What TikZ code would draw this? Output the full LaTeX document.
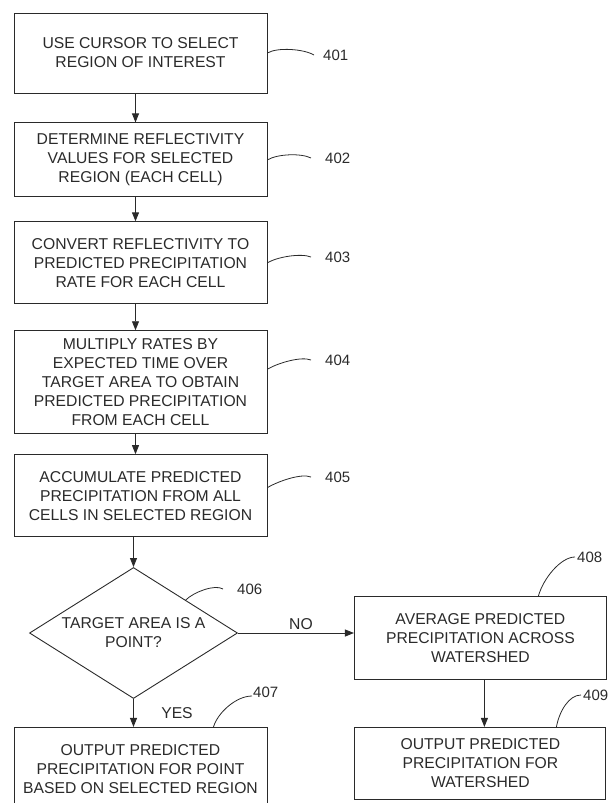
\documentclass[tikz,border=0pt]{standalone}
\usepackage{fontspec}
\setmainfont{Liberation Sans}
\usepackage{xcolor}
\usepackage{tikz}
\usetikzlibrary{arrows.meta,positioning,shapes.geometric}
\definecolor{ink}{HTML}{2A2A2A}
\tikzset{
  patent diagram/.style={
    font=\fontsize{15.7}{19}\selectfont,
    >={Triangle[length=9pt,width=7pt]},
    text=ink
  },
  stepbox/.style={
    draw=ink,
    rectangle,
    line width=0.9pt,
    align=center,
    minimum width=253pt,
    inner sep=2pt
  },
  decisionbox/.style={
    draw=ink,
    diamond,
    aspect=1.59,
    line width=0.9pt,
    align=center,
    minimum width=208pt,
    minimum height=131pt,
    inner sep=0pt
  },
  flowarrow/.style={
    ->,
    draw=ink,
    line width=0.9pt
  },
  refline/.style={
    draw=ink,
    line width=0.8pt
  },
  reflabel/.style={
    font=\fontsize{15}{18}\selectfont,
    anchor=west,
    inner sep=0pt
  }
}

\begin{document}
\begin{tikzpicture}[patent diagram]
\useasboundingbox (0,0) rectangle (610pt,-803pt);
\node[stepbox, minimum height=80pt] (b401) at (140.5pt,-53pt) {USE CURSOR TO SELECT\\REGION OF INTEREST};
\node[stepbox, below=29pt of b401, minimum height=74pt] (b402) {DETERMINE REFLECTIVITY\\VALUES FOR SELECTED\\REGION (EACH CELL)};
\node[stepbox, below=24pt of b402, minimum height=82pt] (b403) {CONVERT REFLECTIVITY TO\\PREDICTED PRECIPITATION\\RATE FOR EACH CELL};
\node[stepbox, below=26pt of b403, minimum height=103pt] (b404) {MULTIPLY RATES BY\\EXPECTED TIME OVER\\TARGET AREA TO OBTAIN\\PREDICTED PRECIPITATION\\FROM EACH CELL};
\node[stepbox, below=20pt of b404, minimum height=82pt] (b405) {ACCUMULATE PREDICTED\\PRECIPITATION FROM ALL\\CELLS IN SELECTED REGION};
\node[decisionbox, below=30pt of b405, xshift=-7pt] (d406) {TARGET AREA IS A\\POINT?};
\node[stepbox, below=28pt of d406, xshift=7pt, minimum height=84pt] (b407) {OUTPUT PREDICTED\\PRECIPITATION FOR POINT\\BASED ON SELECTED REGION};
\node[stepbox, right=116pt of d406, yshift=-5pt, minimum width=252pt, minimum height=83pt] (b408) {AVERAGE PREDICTED\\PRECIPITATION ACROSS\\WATERSHED};
\node[stepbox, below=47pt of b408, minimum width=251pt, minimum height=72pt] (b409) {OUTPUT PREDICTED\\PRECIPITATION FOR\\WATERSHED};

% reference numerals
\node[reflabel] (l401) at (323pt,-55pt) {401};
\node[reflabel] (l402) at (325pt,-158pt) {402};
\node[reflabel] (l403) at (325pt,-257pt) {403};
\node[reflabel] (l404) at (325pt,-360pt) {404};
\node[reflabel] (l405) at (325pt,-477pt) {405};
\node[reflabel] (l406) at (237pt,-589pt) {406};
\node[reflabel] (l407) at (253pt,-692pt) {407};
\node[reflabel] (l408) at (577pt,-557pt) {408};
\node[reflabel] (l409) at (583pt,-695pt) {409};

\draw[refline] (b401.east) .. controls +(10pt,6pt) and +(-10pt,6pt) .. ([xshift=-9pt]l401.west);
\draw[refline] (b402.east) .. controls +(10pt,6pt) and +(-10pt,5pt) .. ([xshift=-14pt]l402.west);
\draw[refline] (b403.east) .. controls +(10pt,6pt) and +(-10pt,4pt) .. ([xshift=-14pt]l403.west);
\draw[refline] ([yshift=13pt]b404.east) .. controls +(10pt,6pt) and +(-10pt,4pt) .. ([xshift=-14pt]l404.west);
\draw[refline] ([yshift=8pt]b405.east) .. controls +(10pt,6pt) and +(-10pt,4pt) .. ([xshift=-14pt]l405.west);
\draw[refline] (d406.north east) .. controls +(8pt,8pt) and +(-8pt,5pt) .. ([xshift=-14pt]l406.west);
\draw[refline] ([xshift=73pt]b407.north) .. controls +(4pt,14pt) and +(-16pt,0pt) .. ([xshift=-1pt,yshift=-4pt]l407.west);
\draw[refline] ([xshift=58pt]b408.north) .. controls +(5pt,18pt) and +(-14pt,0pt) .. ([xshift=-2pt]l408.west);
\draw[refline] ([xshift=76pt]b409.north) .. controls +(3pt,16pt) and +(-12pt,0pt) .. ([xshift=-2pt]l409.west);

\draw[flowarrow] ([xshift=-5pt]b401.south) -- ([xshift=-5pt]b402.north);
\draw[flowarrow] ([xshift=-5pt]b402.south) -- ([xshift=-5pt]b403.north);
\draw[flowarrow] ([xshift=-5pt]b403.south) -- ([xshift=-5pt]b404.north);
\draw[flowarrow] ([xshift=-5pt]b404.south) -- ([xshift=-5pt]b405.north);
\draw[flowarrow] (b405.south -| d406.north) -- (d406.north);
\draw[flowarrow] (d406.south) -- node[right, xshift=24pt] {YES} (b407.north -| d406.south);
\draw[flowarrow] (d406.east) -- node[above, xshift=5pt] {NO} (d406.east -| b408.west);
\draw[flowarrow] ([xshift=4pt]b408.south) -- ([xshift=4pt]b409.north);
\end{tikzpicture}
\end{document}
